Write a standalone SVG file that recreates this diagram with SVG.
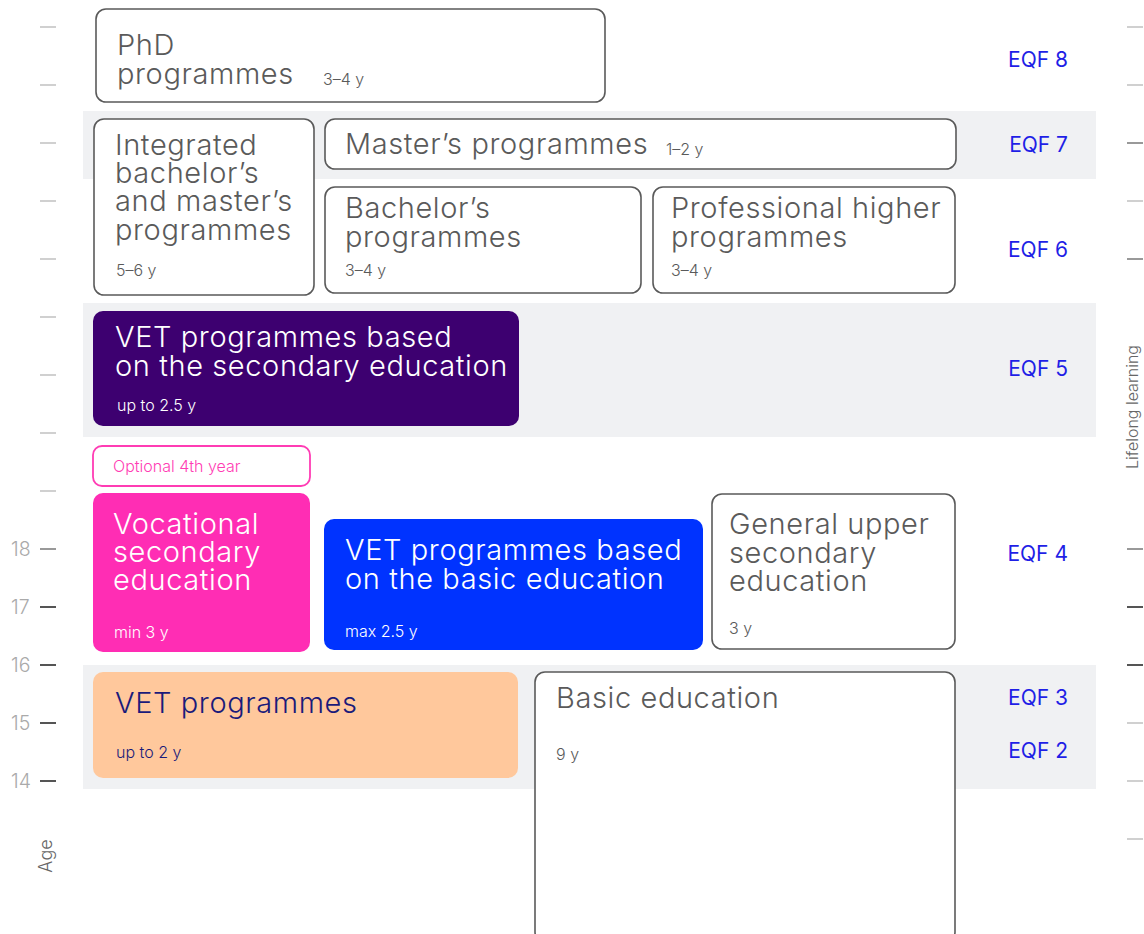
<svg xmlns="http://www.w3.org/2000/svg" width="1144" height="934" viewBox="0 0 1144 934">
<style>
text{font-family:Inter,"Noto Sans","Liberation Sans",sans-serif;font-weight:300}
.band{fill:#f0f1f3}
.box{fill:#fff;stroke:#5a5a5a;stroke-width:1.6}
.t{font-size:29px;letter-spacing:0.6px;fill:#5a5a5a}
.d{font-size:16px;fill:#5a5a5a}
.w{fill:#fff}
.eqf{font-size:21px;fill:#1f1fe6;text-anchor:end;font-weight:400}
.tl{stroke:#d0d0d0;stroke-width:2}
.td{stroke:#555;stroke-width:2}
.tm{stroke:#999;stroke-width:2}
.num{font-size:19.5px;fill:#aaa}
.ax{font-size:18px;fill:#666}
</style>
<rect class="band" x="83" y="111" width="1013" height="68"/>
<rect class="band" x="83" y="303" width="1013" height="134"/>
<rect class="band" x="83" y="665" width="1013" height="124"/>
<g id="axis-left">
<line class="tl" x1="40" y1="27" x2="56" y2="27"/>
<line class="tl" x1="40" y1="85" x2="56" y2="85"/>
<line class="tl" x1="40" y1="143" x2="56" y2="143"/>
<line class="tl" x1="40" y1="201" x2="56" y2="201"/>
<line class="tl" x1="40" y1="259" x2="56" y2="259"/>
<line class="tl" x1="40" y1="317" x2="56" y2="317"/>
<line class="tl" x1="40" y1="375" x2="56" y2="375"/>
<line class="tl" x1="40" y1="433" x2="56" y2="433"/>
<line class="tl" x1="40" y1="491" x2="56" y2="491"/>
<line class="tm" x1="40" y1="549" x2="56" y2="549"/>
<line class="td" x1="40" y1="607" x2="56" y2="607"/>
<line class="td" x1="40" y1="665" x2="56" y2="665"/>
<line class="td" x1="40" y1="723" x2="56" y2="723"/>
<line class="td" x1="40" y1="781" x2="56" y2="781"/>
<text class="num" x="11" y="556">18</text>
<text class="num" x="11" y="614">17</text>
<text class="num" x="11" y="672">16</text>
<text class="num" x="11" y="730">15</text>
<text class="num" x="11" y="788">14</text>
<text class="ax" transform="translate(52,856) rotate(-90)" text-anchor="middle">Age</text>
</g>
<g id="axis-right">
<line class="tl" x1="1127" y1="27" x2="1143" y2="27"/>
<line class="tl" x1="1127" y1="85" x2="1143" y2="85"/>
<line class="tm" x1="1127" y1="143" x2="1143" y2="143"/>
<line class="tl" x1="1127" y1="201" x2="1143" y2="201"/>
<line class="tm" x1="1127" y1="259" x2="1143" y2="259"/>
<line class="tm" x1="1127" y1="549" x2="1143" y2="549"/>
<line class="td" x1="1127" y1="607" x2="1143" y2="607"/>
<line class="td" x1="1127" y1="665" x2="1143" y2="665"/>
<line class="tl" x1="1127" y1="723" x2="1143" y2="723"/>
<line class="tl" x1="1127" y1="781" x2="1143" y2="781"/>
<line class="tl" x1="1127" y1="839" x2="1143" y2="839"/>
<text transform="translate(1138,407) rotate(-90)" text-anchor="middle" style="font-size:16px;fill:#666">Lifelong learning</text>
</g>
<g id="eqf-labels">
<text class="eqf" x="1068" y="67">EQF 8</text>
<text class="eqf" x="1068" y="152">EQF 7</text>
<text class="eqf" x="1068" y="257">EQF 6</text>
<text class="eqf" x="1068" y="376">EQF 5</text>
<text class="eqf" x="1068" y="561">EQF 4</text>
<text class="eqf" x="1068" y="705">EQF 3</text>
<text class="eqf" x="1068" y="758">EQF 2</text>
</g>
<g id="phd">
<rect class="box" x="96" y="9" width="509" height="93" rx="10"/>
<text class="t"><tspan x="117" y="55">PhD</tspan><tspan x="117" y="84">programmes</tspan></text>
<text class="d" x="323" y="85">3–4 y</text>
</g>
<g id="integrated">
<rect class="box" x="94" y="119" width="220" height="176" rx="10"/>
<text class="t"><tspan x="115" y="155">Integrated</tspan><tspan x="115" y="183">bachelor’s</tspan><tspan x="115" y="211">and master’s</tspan><tspan x="115" y="240">programmes</tspan></text>
<text class="d" x="116" y="276">5–6 y</text>
</g>
<g id="masters">
<rect class="box" x="325" y="119" width="631" height="50" rx="10"/>
<text class="t" x="345" y="154">Master’s programmes</text>
<text class="d" x="666" y="155">1–2 y</text>
</g>
<g id="bachelors">
<rect class="box" x="325" y="187" width="316" height="106" rx="10"/>
<text class="t"><tspan x="345" y="218">Bachelor’s</tspan><tspan x="345" y="247">programmes</tspan></text>
<text class="d" x="345" y="276">3–4 y</text>
</g>
<g id="professional">
<rect class="box" x="653" y="187" width="302" height="106" rx="10"/>
<text class="t"><tspan x="671" y="218">Professional higher</tspan><tspan x="671" y="247">programmes</tspan></text>
<text class="d" x="671" y="276">3–4 y</text>
</g>
<g id="vet-secondary">
<rect x="93" y="311" width="426" height="115" rx="10" fill="#3d0070"/>
<text class="t w"><tspan x="115" y="347">VET programmes based</tspan><tspan x="115" y="376">on the secondary education</tspan></text>
<text class="d w" x="117" y="411">up to 2.5 y</text>
</g>
<g id="optional-4th-year">
<rect x="93" y="446" width="217" height="40" rx="9" fill="#fff" stroke="#ff3cb4" stroke-width="1.8"/>
<text x="113" y="472" style="font-size:16px;fill:#ff3cb4">Optional 4th year</text>
</g>
<g id="vocational-secondary">
<rect x="93" y="493" width="217" height="159" rx="10" fill="#ff2db4"/>
<text class="t w"><tspan x="113" y="534">Vocational</tspan><tspan x="113" y="562">secondary</tspan><tspan x="113" y="590">education</tspan></text>
<text class="d w" x="114" y="638">min 3 y</text>
</g>
<g id="vet-basic">
<rect x="324" y="519" width="379" height="131" rx="10" fill="#0033ff"/>
<text class="t w"><tspan x="345" y="560">VET programmes based</tspan><tspan x="345" y="589">on the basic education</tspan></text>
<text class="d w" x="345" y="637">max 2.5 y</text>
</g>
<g id="general-upper-secondary">
<rect class="box" x="712" y="494" width="243" height="155" rx="10"/>
<text class="t"><tspan x="729" y="534">General upper</tspan><tspan x="729" y="563">secondary</tspan><tspan x="729" y="591">education</tspan></text>
<text class="d" x="729" y="634">3 y</text>
</g>
<g id="vet-programmes">
<rect x="93" y="672" width="425" height="106" rx="10" fill="#ffc89c"/>
<text class="t" x="115" y="713" style="fill:#1a1a7a">VET programmes</text>
<text class="d" x="116" y="758" style="fill:#1a1a7a">up to 2 y</text>
</g>
<g id="basic-education">
<rect class="box" x="535" y="672" width="420" height="270" rx="10"/>
<text class="t" x="556" y="708">Basic education</text>
<text class="d" x="556" y="760">9 y</text>
</g>
<g id="connectors"/>
</svg>
